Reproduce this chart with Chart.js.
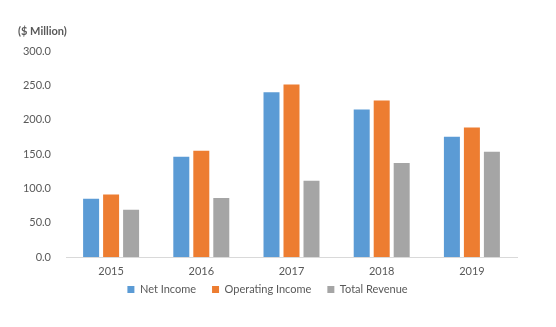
<!DOCTYPE html>
<html>
<head>
<meta charset="utf-8">
<script src="https://cdn.jsdelivr.net/npm/chart.js@4"></script>
<style>
  html, body { margin: 0; padding: 0; background: #fff; }
  #wrap { width: 556px; height: 327px; }
</style>
</head>
<body>
<div id="wrap"><canvas id="chart"></canvas></div>
<script>
// chart data
const years = ['2015', '2016', '2017', '2018', '2019'];
const netIncome = [84.8, 146.0, 240.0, 215.0, 175.4];
const operatingIncome = [91.0, 155.0, 251.5, 228.0, 188.6];
const totalRevenue = [68.7, 86.0, 111.0, 137.0, 153.5];
const yTicks = [0, 50, 100, 150, 200, 250, 300];

const textColor = '#595959';
const fontFamily = 'Lato, "Open Sans", sans-serif';

new Chart(document.getElementById('chart').getContext('2d'), {
    type: 'bar',
    data: {
        labels: years,
        datasets: [
            { label: 'Net Income', data: netIncome, backgroundColor: '#5B9BD5' },
            { label: 'Operating Income', data: operatingIncome, backgroundColor: '#ED7D31' },
            { label: 'Total Revenue', data: totalRevenue, backgroundColor: '#A5A5A5' }
        ]
    },
    options: {
        responsive: true,
        maintainAspectRatio: false,
        animation: false,
        datasets: { bar: { categoryPercentage: 0.665, barPercentage: 0.8 } },
        layout: { padding: { left: 18, right: 39, top: 25, bottom: 22 } },
        plugins: {
            title: {
                display: true,
                text: '($ Million)',
                align: 'start',
                color: textColor,
                font: { family: fontFamily, size: 11, weight: 'bold' },
                padding: { top: 0, bottom: 13 }
            },
            legend: {
                position: 'bottom',
                labels: {
                    boxWidth: 7,
                    boxHeight: 7,
                    padding: 16,
                    color: textColor,
                    font: { family: fontFamily, size: 11 }
                }
            },
            tooltip: { enabled: false }
        },
        scales: {
            x: {
                afterFit: function(scale) {
                    // keep the legend close: short axis box, labels allowed to overflow it
                    scale.height = 11;
                    scale._computeLabelArea = () => undefined;
                },
                grid: { display: false, drawTicks: false },
                border: { display: true, color: '#D9D9D9', width: 1 },
                ticks: { color: textColor, font: { family: fontFamily, size: 11 }, padding: 8 }
            },
            y: {
                min: 0,
                max: 300,
                afterFit: function(scale) { scale.width = 48; },
                afterBuildTicks: function(scale) {
                    scale.ticks = yTicks.map(v => ({ value: v }));
                },
                grid: { display: false, drawTicks: false },
                border: { display: false },
                ticks: {
                    color: textColor,
                    font: { family: fontFamily, size: 11 },
                    padding: 15,
                    callback: v => v.toFixed(1)
                }
            }
        }
    }
});
</script>
</body>
</html>
